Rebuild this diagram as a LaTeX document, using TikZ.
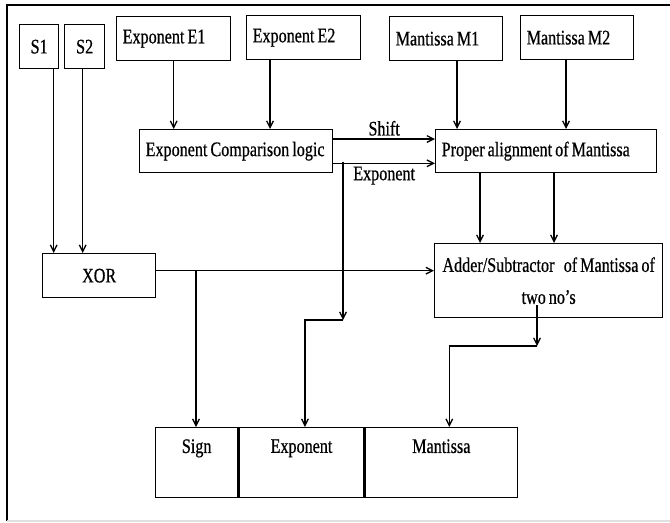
\documentclass[tikz,border=0pt]{standalone}
\usepackage{fontspec}
\setmainfont{Liberation Serif}[FakeStretch=0.78, WordSpace=0.75, FakeBold=0.6]
\usetikzlibrary{arrows.meta}
\tikzset{
  fpbox/.style={draw=black, line width=1pt, inner sep=0pt, font=\fontsize{15.5}{18}\selectfont},
  fpleft/.style={fpbox, anchor=north west, align=flush left, inner xsep=4.5pt, minimum height=33pt},
  fpmid/.style={fpbox, anchor=north west, align=center},
  fpfield/.style={fpbox, anchor=north west, minimum height=52.5pt},
  fplabel/.style={font=\fontsize{15.5}{18}\selectfont, inner sep=2pt},
  fparrow/.style={line width=1pt, draw=black, -{Straight Barb[length=5pt,width=5pt]}},
  fpframe/.style={line width=1.5pt, draw=black},
}

\begin{document}
\begin{tikzpicture}[x=0.75pt, y=-0.75pt]
\useasboundingbox (0,0) rectangle (670,522);
\draw[fpframe] (670,5) -- (7,5) -- (7,521);
\draw[black!12, line width=0.8pt] (7,521) -- (670,521);
\node[fpmid, minimum width=29.25pt, minimum height=33pt] (s1) at (19,24) {S1};
\node[fpmid, minimum width=30pt, minimum height=33pt] (s2) at (64,24) {S2};
\node[fpleft, text width=76.5pt] (e1) at (116,16) {Exponent E1};
\node[fpleft, text width=76.5pt] (e2) at (246,15) {Exponent E2};
\node[fpleft, text width=75.75pt] (m1) at (389,16) {Mantissa M1};
\node[fpleft, text width=75.75pt] (m2) at (520,15) {Mantissa M2};
\node[fpleft, text width=135.75pt, minimum height=32.25pt] (ecl) at (139,129) {Exponent Comparison logic};
\node[fpleft, text width=156.75pt, minimum height=32.25pt] (pam) at (435,129) {Proper alignment of Mantissa};
\node[fpmid, minimum width=84.75pt, minimum height=33pt] (xor) at (42,253) {XOR};
\node[fpmid, minimum width=171pt, minimum height=55.5pt] (addsub) at (434,243) {Adder/Subtractor\hspace{7pt}of Mantissa of\\[6pt] two no's};
\node[fpfield, minimum width=61.5pt, label={[fplabel, anchor=north, yshift=-7pt]north:Sign}] (sign) at (155,427) {};
\node[fpfield, minimum width=93.75pt, label={[fplabel, anchor=north, yshift=-7pt]north:Exponent}] (expf) at (sign.north east) {};
\node[fpfield, minimum width=114pt, label={[fplabel, anchor=north, yshift=-7pt]north:Mantissa}] (mantf) at (expf.north east) {};
\draw[fparrow] ([xshift=10.9pt]s1.south) -- ([xshift=10.9pt]s1.south |- xor.north);
\draw[fparrow] ([xshift=-1.5pt]s2.south) -- ([xshift=-1.5pt]s2.south |- xor.north);
\draw[fparrow] (e1.south) -- (e1.south |- ecl.north);
\draw[fparrow] ([xshift=18pt]e2.south west) -- ([xshift=18pt]e2.south west |- ecl.north);
\draw[fparrow] ([xshift=51pt]m1.south west) -- ([xshift=51pt]m1.south west |- pam.north);
\draw[fparrow] ([xshift=34.5pt]m2.south west) -- ([xshift=34.5pt]m2.south west |- pam.north);
\draw[fparrow] ([yshift=-7.5pt]ecl.north east) -- ([yshift=-7.5pt]ecl.north east -| pam.west) node[fplabel, midway, above] {Shift};
\draw[fparrow] ([yshift=7.5pt]ecl.south east) -- ([yshift=7.5pt]ecl.south east -| pam.west) node[fplabel, midway, below] {Exponent};
\coordinate (ebr) at (343,162);
\coordinate (ekink) at (343,320);
\draw[fparrow] (ebr) -- (ekink);
\draw[fparrow] (ekink) -| ([xshift=2.6pt]expf.north);
\draw[fparrow] ([xshift=33.75pt]pam.south west) -- ([xshift=33.75pt]pam.south west |- addsub.north);
\draw[fparrow] ([xshift=89.25pt]pam.south west) -- ([xshift=89.25pt]pam.south west |- addsub.north);
\draw[fparrow] ([yshift=3.75pt]xor.east) -- ([yshift=3.75pt]xor.east -| addsub.west);
\coordinate (xbr) at (196,270);
\draw[fparrow] (xbr) -- (xbr |- sign.north);
\coordinate (aout) at (537,305);
\coordinate (akink) at (537,346);
\draw[fparrow] (aout) -- (akink);
\draw[fparrow] (akink) -| ([xshift=6pt]mantf.north);
\end{tikzpicture}
\end{document}
